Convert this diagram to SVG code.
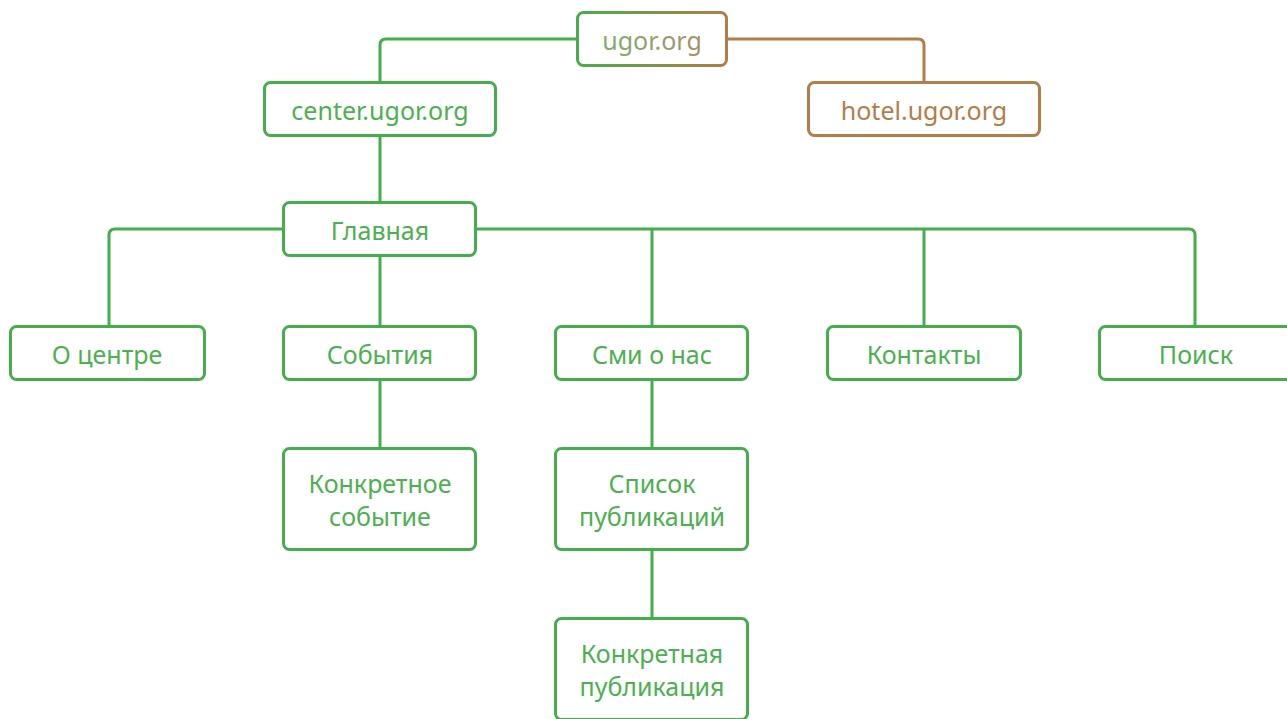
<svg xmlns="http://www.w3.org/2000/svg" width="1287" height="719" viewBox="0 0 1287 719">
<defs>
<linearGradient id="gr" x1="0" y1="0" x2="1" y2="0">
<stop offset="0" stop-color="#45ad4b"/>
<stop offset="1" stop-color="#b47c48"/>
</linearGradient>
<linearGradient id="grt" x1="0" y1="0" x2="1" y2="0">
<stop offset="0" stop-color="#7fae6a"/>
<stop offset="1" stop-color="#a8906c"/>
</linearGradient>
<style>
.n{fill:#fff;stroke:#45ad4b;stroke-width:3}
.b{fill:#fff;stroke:#b47c48;stroke-width:3}
.t{font-family:"Noto Sans","Open Sans",sans-serif;font-size:25px;fill:#4cb050;text-anchor:middle}
.tb{fill:#b47c48}
.c{fill:none;stroke:#45ad4b;stroke-width:3}
.cb{fill:none;stroke:#b47c48;stroke-width:3}
</style>
</defs>
<rect width="1287" height="719" fill="#fff"/>
<g id="connectors">
<path class="c" d="M577 39 H386 Q380 39 380 45 V82"/>
<path class="cb" d="M727 39 H918 Q924 39 924 45 V82"/>
<path class="c" d="M380 136 V202"/>
<path class="c" d="M283 229 H115 Q109 229 109 235 V326"/>
<path class="c" d="M476 229 H1189 Q1195 229 1195 235 V326"/>
<path class="c" d="M652 229 V326"/>
<path class="c" d="M924 229 V326"/>
<path class="c" d="M380 256 V326"/>
<path class="c" d="M380 380 V448"/>
<path class="c" d="M652 380 V448"/>
<path class="c" d="M652 550 V618"/>
</g>
<g id="ugor">
<rect x="577.5" y="12.5" width="149" height="53" rx="6" fill="#fff" stroke="url(#gr)" stroke-width="3"/>
<text x="652" y="50" class="t" style="fill:url(#grt)">ugor.org</text>
</g>
<g id="center">
<rect class="n" x="264.5" y="82.5" width="231" height="53" rx="6"/>
<text x="380" y="120" class="t">center.ugor.org</text>
</g>
<g id="hotel">
<rect class="b" x="808.5" y="82.5" width="231" height="53" rx="6"/>
<text x="924" y="120" class="t tb">hotel.ugor.org</text>
</g>
<g id="glavnaya">
<rect class="n" x="283.5" y="202.5" width="192" height="53" rx="6"/>
<text x="380" y="240" class="t">Главная</text>
</g>
<g id="o-centre">
<rect class="n" x="10.5" y="326.5" width="194" height="53" rx="6"/>
<text x="107" y="364" class="t">О центре</text>
</g>
<g id="sobytiya">
<rect class="n" x="283.5" y="326.5" width="192" height="53" rx="6"/>
<text x="380" y="364" class="t">События</text>
</g>
<g id="smi">
<rect class="n" x="555.5" y="326.5" width="192" height="53" rx="6"/>
<text x="652" y="364" class="t">Сми о нас</text>
</g>
<g id="kontakty">
<rect class="n" x="827.5" y="326.5" width="193" height="53" rx="6"/>
<text x="924" y="364" class="t">Контакты</text>
</g>
<g id="poisk">
<rect class="n" x="1099.5" y="326.5" width="193" height="53" rx="6"/>
<text x="1196" y="364" class="t">Поиск</text>
</g>
<g id="konkr-sobytie">
<rect class="n" x="283.5" y="448.5" width="192" height="101" rx="6"/>
<text x="380" y="493" class="t">Конкретное</text>
<text x="380" y="526" class="t">событие</text>
</g>
<g id="spisok">
<rect class="n" x="555.5" y="448.5" width="192" height="101" rx="6"/>
<text x="652" y="493" class="t">Список</text>
<text x="652" y="526" class="t">публикаций</text>
</g>
<g id="konkr-publ">
<rect class="n" x="555.5" y="618.5" width="192" height="101" rx="6"/>
<text x="652" y="663" class="t">Конкретная</text>
<text x="652" y="696" class="t">публикация</text>
</g>
</svg>
